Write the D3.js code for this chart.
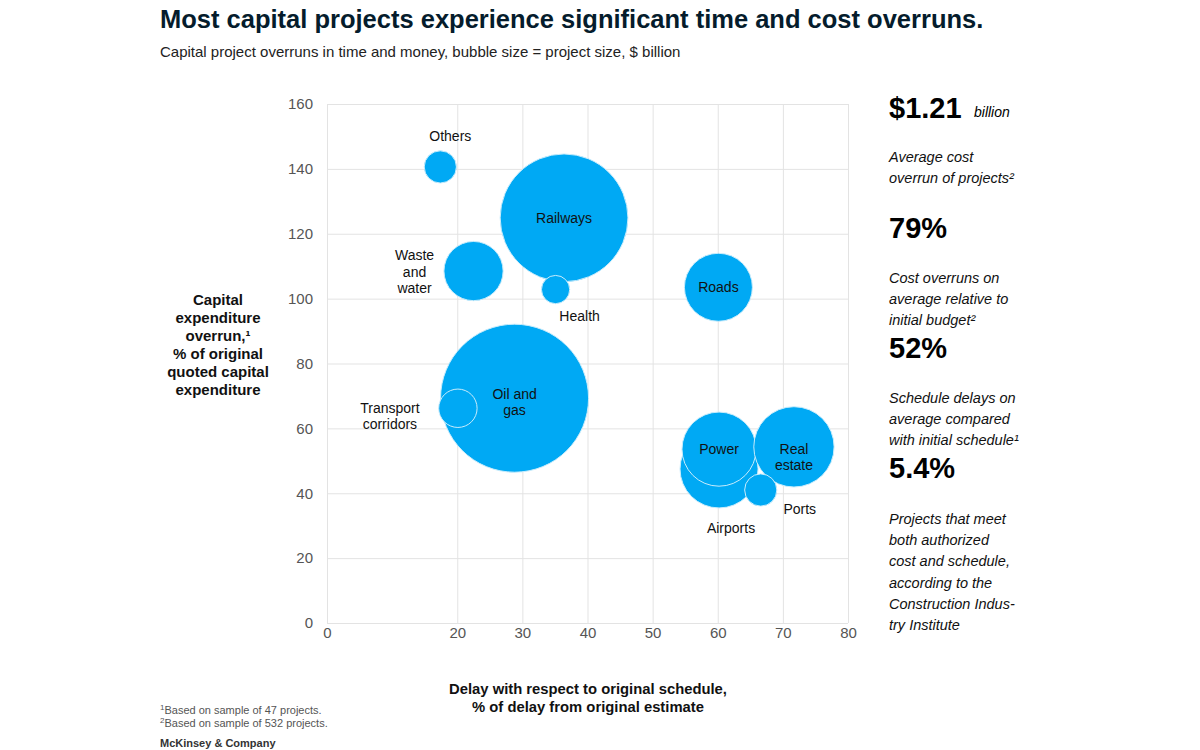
<!DOCTYPE html>
<html>
<head>
<meta charset="utf-8">
<script src="https://cdn.jsdelivr.net/npm/d3@7"></script>
<style>
  body { margin: 0; background: #fff; }
  svg { font-family: "Liberation Sans", Arial, sans-serif; display: block; }
</style>
</head>
<body>
<svg class="bubbleChart"></svg>
<script>
// data
const sectors = ["Others", "Railways", "Waste and water", "Health", "Roads", "Oil and gas",
                 "Transport corridors", "Airports", "Power", "Real estate", "Ports"];
const delay    = [17.4, 36.4, 22.5, 35.1, 60.1, 28.8, 20.1, 60.2, 60.2, 71.7, 66.6];
const overrun  = [140.6, 124.9, 108.5, 102.8, 103.5, 69.3, 66.2, 47.5, 53.6, 54.3, 41.0];
const projSize = [2.6, 41.0, 8.8, 2.0, 11.6, 55.0, 3.7, 15.3, 13.8, 16.2, 2.6];
const xTicks = [0, 20, 30, 40, 50, 60, 70, 80];
const yTicks = [0, 20, 40, 60, 80, 100, 120, 140, 160];

const stats = [
  {value: "$1.21", unit: "billion", text: ["Average cost", "overrun of projects\u00b2"]},
  {value: "79%", text: ["Cost overruns on", "average relative to", "initial budget\u00b2"]},
  {value: "52%", text: ["Schedule delays on", "average compared", "with initial schedule\u00b9"]},
  {value: "5.4%", text: ["Projects that meet", "both authorized", "cost and schedule,", "according to the", "Construction Indus-", "try Institute"]}
];

// label placement relative to bubble centre (layout only)
const labelPos = {
  "Others": [10, -31],
  "Railways": [0, 0],
  "Waste and water": [-59, 1],
  "Health": [24, 27],
  "Roads": [0, 0],
  "Oil and gas": [0, 4],
  "Transport corridors": [-68, 8],
  "Airports": [12, 59],
  "Power": [0, 0],
  "Real estate": [0, 10],
  "Ports": [39, 19]
};
const labelLines = {
  "Waste and water": ["Waste", "and", "water"],
  "Oil and gas": ["Oil and", "gas"],
  "Transport corridors": ["Transport", "corridors"],
  "Real estate": ["Real", "estate"]
};

drawChart();

function drawChart() {
  const W = 1200, H = 750;
  const margin = {top: 104, left: 327, right: 352, bottom: 127};
  const width = W - margin.left - margin.right,
        height = H - margin.top - margin.bottom;

  const svg = d3.select(".bubbleChart")
      .attr("width", W)
      .attr("height", H);

  svg.append("text")
      .attr("x", 160).attr("y", 28)
      .style("font-size", "25.5px")
      .style("font-weight", "700")
      .style("fill", "#051c2c")
      .text("Most capital projects experience significant time and cost overruns.");

  svg.append("text")
      .attr("x", 160).attr("y", 57)
      .style("font-size", "15px")
      .style("fill", "#222")
      .text("Capital project overruns in time and money, bubble size = project size, $ billion");

  const g = svg.append("g")
      .attr("transform", `translate(${margin.left},${margin.top})`);

  const x = d3.scaleLinear().domain([0, 80]).range([0, width]);
  const y = d3.scaleLinear().domain([0, 160]).range([height, 0]);
  const r = d3.scaleSqrt().domain([0, 55]).range([0, 74]);

  // Y axis with grid
  const yAxis = g.append("g")
      .call(d3.axisLeft(y).tickValues(yTicks).tickSize(-width).tickPadding(14));
  yAxis.select(".domain").remove();
  yAxis.selectAll(".tick line").style("stroke", "#e3e3e3");
  yAxis.selectAll(".tick text")
      .style("font-size", "15px")
      .style("font-family", "Liberation Sans, Arial, sans-serif")
      .style("fill", "#555");

  // X axis with grid
  const xAxis = g.append("g")
      .attr("transform", `translate(0,${height})`)
      .call(d3.axisBottom(x).tickValues(xTicks).tickSize(-height).tickPadding(4));
  xAxis.select(".domain").remove();
  xAxis.selectAll(".tick line").style("stroke", "#e3e3e3");
  xAxis.selectAll(".tick text")
      .style("font-size", "15px")
      .style("font-family", "Liberation Sans, Arial, sans-serif")
      .style("fill", "#555");

  const data = sectors.map((s, i) => ({name: s, x: delay[i], y: overrun[i], size: projSize[i]}));

  // Bubbles
  g.selectAll(".bubble")
      .data(data)
      .enter().append("circle")
      .attr("class", "bubble")
      .attr("cx", d => x(d.x))
      .attr("cy", d => y(d.y))
      .attr("r", d => r(d.size))
      .style("fill", "#00a9f4")
      .style("stroke", "#c8ecfc")
      .style("stroke-width", 1);

  // Labels
  const lh = 16.5;
  const labels = g.selectAll(".lbl")
      .data(data)
      .enter().append("text")
      .attr("class", "lbl")
      .attr("text-anchor", "middle")
      .style("font-size", "14px")
      .style("fill", "#111");
  labels.each(function(d) {
    const lines = labelLines[d.name] || [d.name];
    const p = labelPos[d.name];
    const cx = x(d.x) + p[0], cy = y(d.y) + p[1];
    d3.select(this).selectAll("tspan")
        .data(lines)
        .enter().append("tspan")
        .attr("x", cx)
        .attr("y", (t, i) => cy + (i - (lines.length - 1) / 2) * lh)
        .attr("dy", "0.35em")
        .text(t => t);
  });

  // Axis titles
  const yTitle = ["Capital", "expenditure", "overrun,\u00b9", "% of original", "quoted capital", "expenditure"];
  svg.append("text")
      .attr("text-anchor", "middle")
      .style("font-size", "15px")
      .style("font-weight", "700")
      .style("fill", "#111")
      .selectAll("tspan")
      .data(yTitle)
      .enter().append("tspan")
      .attr("x", 218)
      .attr("y", (t, i) => 300 + i * 18)
      .attr("dy", "0.35em")
      .text(t => t);

  const xTitle = ["Delay with respect to original schedule,", "% of delay from original estimate"];
  svg.append("text")
      .attr("text-anchor", "middle")
      .style("font-size", "14.8px")
      .style("font-weight", "700")
      .style("fill", "#111")
      .selectAll("tspan")
      .data(xTitle)
      .enter().append("tspan")
      .attr("x", 588)
      .attr("y", (t, i) => 689 + i * 18)
      .attr("dy", "0.35em")
      .text(t => t);

  // Right-hand stats
  const side = svg.append("g").attr("transform", "translate(889,0)");
  const statY = [[118, 157], [238, 278], [358, 398], [478, 519]];
  stats.forEach((s, i) => {
    side.append("text")
        .attr("x", 0).attr("y", statY[i][0])
        .style("font-size", "29px")
        .style("font-weight", "700")
        .style("fill", "#000")
        .text(s.value);
    if (s.unit) {
      side.append("text")
          .attr("x", 85).attr("y", statY[i][0] - 1)
          .style("font-size", "14px")
          .style("font-style", "italic")
          .style("fill", "#000")
          .text(s.unit);
    }
    side.append("text")
        .style("font-size", "14.5px")
        .style("font-style", "italic")
        .style("fill", "#111")
        .selectAll("tspan")
        .data(s.text)
        .enter().append("tspan")
        .attr("x", 0)
        .attr("y", (t, j) => statY[i][1] + j * 21.2)
        .attr("dy", "0.35em")
        .text(t => t);
  });

  // Footnotes
  const foot = svg.append("g").style("fill", "#555").style("font-size", "11px");
  foot.append("text").attr("x", 160).attr("y", 714)
      .html('<tspan font-size="8" dy="-4">1</tspan><tspan dy="4">Based on sample of 47 projects.</tspan>');
  foot.append("text").attr("x", 160).attr("y", 727)
      .html('<tspan font-size="8" dy="-4">2</tspan><tspan dy="4">Based on sample of 532 projects.</tspan>');
  svg.append("text")
      .attr("x", 160).attr("y", 747)
      .style("font-size", "11px")
      .style("font-weight", "700")
      .style("fill", "#333")
      .text("McKinsey & Company");
}
</script>
</body>
</html>
